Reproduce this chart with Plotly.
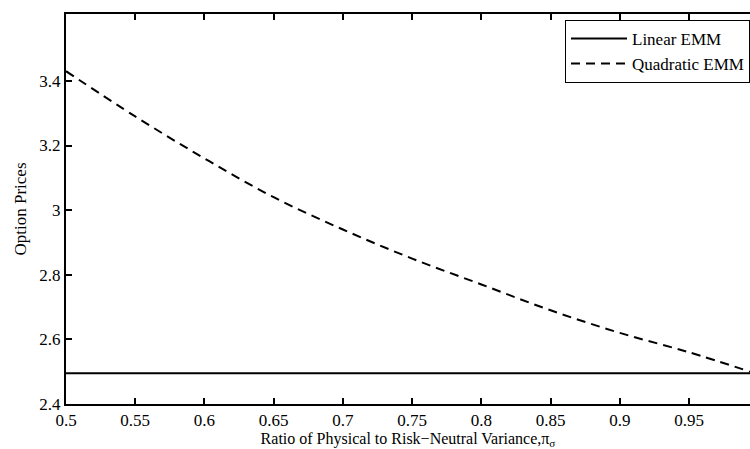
import plotly.graph_objects as go

x_quad = [0.5, 0.55, 0.6, 0.65, 0.7, 0.75, 0.8, 0.85, 0.9, 0.95, 0.994]
y_quad = [3.43, 3.29, 3.16, 3.04, 2.94, 2.85, 2.77, 2.69, 2.62, 2.56, 2.50]
x_lin = [0.5, 0.994]
y_lin = [2.495, 2.495]
x_ticks = [0.5, 0.55, 0.6, 0.65, 0.7, 0.75, 0.8, 0.85, 0.9, 0.95]
y_ticks = [2.4, 2.6, 2.8, 3.0, 3.2, 3.4]
y_tick_text = ["2.4", "2.6", "2.8", "3", "3.2", "3.4"]

font = "Liberation Serif, Times New Roman, serif"

fig = go.Figure()
fig.add_trace(go.Scatter(x=x_lin, y=y_lin, mode="lines", name="Linear EMM",
                         line=dict(color="black", width=2)))
fig.add_trace(go.Scatter(x=x_quad, y=y_quad, mode="lines", name="Quadratic EMM",
                         line=dict(color="black", width=2, dash="9px,6px", shape="spline")))

fig.update_layout(
    width=750, height=449,
    margin=dict(l=66, r=0, t=14, b=45),
    paper_bgcolor="white", plot_bgcolor="white",
    font=dict(family=font, color="black", size=17),
    showlegend=True,
    legend=dict(x=1.0, xanchor="right", y=0.985, yanchor="top",
                bgcolor="white", bordercolor="black", borderwidth=1,
                font=dict(size=17, family=font), tracegroupgap=0,
                itemwidth=56),
    xaxis=dict(range=[0.5, 0.994], tickvals=x_ticks,
               ticktext=[str(v) for v in x_ticks],
               ticks="inside", ticklen=6, tickwidth=2, tickcolor="black",
               showline=True, linecolor="black", linewidth=2, mirror="ticks",
               showgrid=False, zeroline=False,
               tickfont=dict(size=17),
               title=dict(text="Ratio of Physical to Risk\u2212Neutral Variance,\u03c0<sub>\u03c3</sub>",
                          font=dict(size=16), standoff=0)),
    yaxis=dict(range=[2.4, 3.607], tickvals=y_ticks, ticktext=y_tick_text,
               ticks="inside", ticklen=6, tickwidth=2, tickcolor="black",
               showline=True, linecolor="black", linewidth=2,
               showgrid=False, zeroline=False,
               tickfont=dict(size=17),
               title=dict(text="Option Prices", font=dict(size=17), standoff=8)),
)

fig.write_html("out.html")
